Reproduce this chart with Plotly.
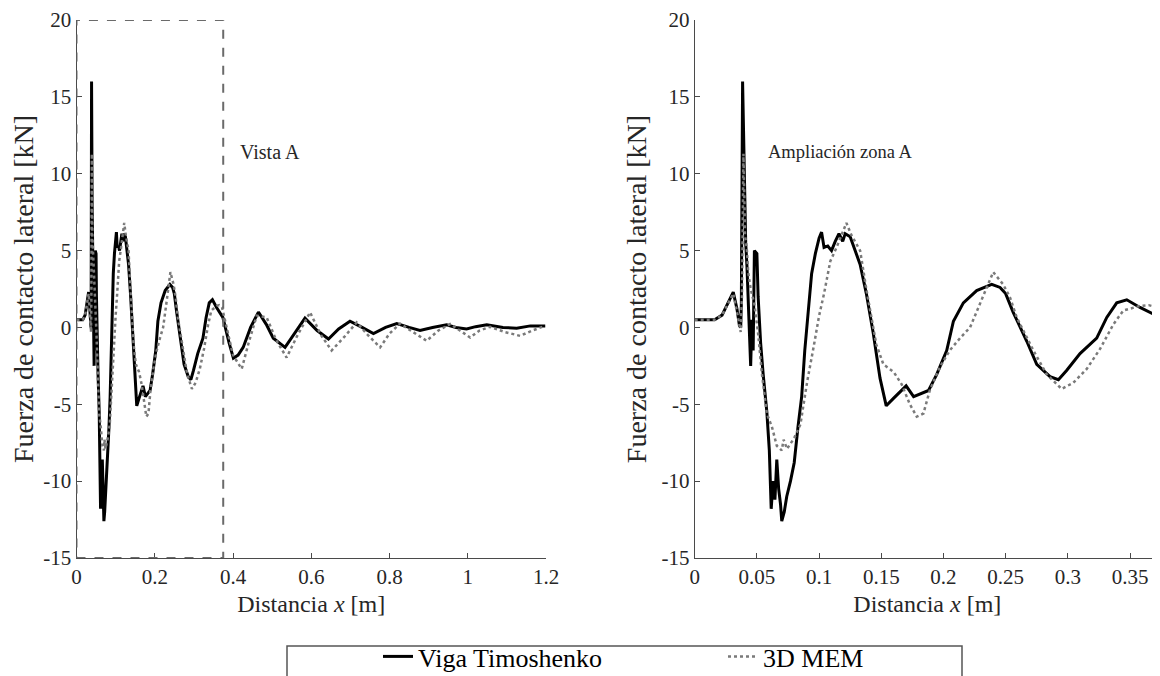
import plotly.graph_objects as go
from plotly.subplots import make_subplots

# Viga Timoshenko
x_tim = [0, 0.016, 0.022, 0.027, 0.031, 0.034, 0.036, 0.037, 0.0375, 0.0385, 0.0395, 0.040,
         0.041, 0.042, 0.0435, 0.045, 0.046, 0.047, 0.048, 0.050, 0.051, 0.053, 0.055, 0.058,
         0.060, 0.0615, 0.063, 0.0645, 0.066, 0.0675, 0.069, 0.070, 0.072, 0.074, 0.077, 0.080,
         0.083, 0.086, 0.0885, 0.091, 0.094, 0.097, 0.100, 0.102, 0.104, 0.107, 0.110, 0.113,
         0.116, 0.119, 0.121, 0.125, 0.129, 0.133, 0.138, 0.1436, 0.149, 0.154, 0.160, 0.165,
         0.170, 0.176, 0.181, 0.188, 0.1946, 0.2026, 0.208, 0.216, 0.2267, 0.2388, 0.2455, 0.250,
         0.256, 0.267, 0.275, 0.2857, 0.2924, 0.299, 0.3098, 0.3232, 0.3313, 0.3393, 0.3474, 0.358,
         0.3741, 0.39, 0.401, 0.413, 0.426, 0.445, 0.465, 0.485, 0.503, 0.533, 0.56, 0.584,
         0.615, 0.644, 0.67, 0.699, 0.73, 0.759, 0.79, 0.8185, 0.85, 0.878, 0.91, 0.946,
         0.97, 0.997, 1.02, 1.0486, 1.09, 1.125, 1.16, 1.198]
y_tim = [0.5, 0.5, 0.8, 1.6, 2.3, 1.2, 0.1, 0.0, 1.5, 16.0, 10.5, 8.0,
         5.5, 4.0, 1.0, -2.5, 0.5, -1.5, 5.0, 4.8, 2.0, -1.0, -3.0, -5.5,
         -8.0, -11.8, -10.0, -11.2, -8.6, -10.5, -11.5, -12.6, -12.0, -11.0, -10.0, -8.8,
         -6.5, -4.5, -1.5, 1.0, 3.5, 4.8, 5.8, 6.2, 5.2, 5.3, 5.0, 5.6,
         6.1, 5.6, 6.1, 5.9, 5.0, 4.1, 2.2, -0.4, -3.3, -5.1, -4.6, -4.2,
         -3.8, -4.5, -4.35, -4.1, -3.05, -1.5, 0.4, 1.6, 2.4, 2.8, 2.6, 2.2,
         1.0, -0.9, -2.4, -3.2, -3.4, -2.8, -1.7, -0.7, 0.65, 1.6, 1.8, 1.3,
         0.65, -1.0, -2.0, -1.8, -1.3, 0.0, 1.0, 0.2, -0.7, -1.3, -0.3, 0.6,
         -0.2, -0.75, -0.1, 0.4, 0.0, -0.4, 0.0, 0.25, 0.0, -0.2, 0.0, 0.17,
         0.0, -0.1, 0.05, 0.17, 0.0, -0.05, 0.1, 0.1]

# 3D MEM
x_mem = [0, 0.016, 0.022, 0.027, 0.031, 0.034, 0.036, 0.037, 0.038, 0.0392, 0.0405, 0.042,
         0.043, 0.045, 0.048, 0.051, 0.054, 0.058, 0.0622, 0.066, 0.070, 0.0715, 0.0742, 0.080,
         0.085, 0.0905, 0.096, 0.100, 0.104, 0.109, 0.114, 0.1178, 0.122, 0.126, 0.133, 0.138,
         0.146, 0.1517, 0.160, 0.1664, 0.173, 0.1785, 0.1839, 0.189, 0.197, 0.205, 0.2133, 0.2214,
         0.2294, 0.240, 0.248, 0.2535, 0.2589, 0.2723, 0.283, 0.295, 0.3044, 0.3152, 0.3259, 0.3366,
         0.3446, 0.358, 0.365, 0.372, 0.38, 0.40, 0.4223, 0.44, 0.4606, 0.486, 0.51, 0.537,
         0.565, 0.597, 0.625, 0.652, 0.685, 0.716, 0.745, 0.776, 0.80, 0.827, 0.86, 0.895,
         0.925, 0.955, 0.98, 1.006, 1.03, 1.057, 1.095, 1.134, 1.165, 1.198]
y_mem = [0.5, 0.5, 0.8, 1.6, 2.2, 1.0, 0.0, -0.3, 2.0, 11.3, 6.0, 5.0,
         3.6, 2.5, 1.5, -0.4, -3.0, -5.6, -6.5, -7.7, -8.0, -7.3, -7.9, -7.2,
         -6.3, -3.5, -1.1, 0.75, 2.2, 4.3, 5.2, 6.0, 6.8, 6.0, 5.0, 2.5,
         -1.1, -2.4, -2.9, -3.7, -5.0, -5.8, -5.6, -4.1, -2.6, -1.5, -0.7, 0.0,
         1.5, 3.6, 2.8, 1.95, 0.65, -1.5, -3.05, -4.0, -3.6, -2.7, -1.4, 0.2,
         1.1, 1.4, 1.45, 1.3, 0.4, -1.8, -2.7, -1.0, 0.76, 0.65, -0.8, -1.96,
         -0.5, 0.98, -0.5, -1.5, -0.6, 0.32, -0.5, -1.3, -0.4, 0.25, -0.3, -0.87,
         -0.2, 0.22, -0.2, -0.66, -0.2, 0.04, -0.3, -0.55, -0.2, 0.1]

y_ticks = [-15, -10, -5, 0, 5, 10, 15, 20]
y_ticktext = ["-15", "-10", "-5", "0", "5", "10", "15", "20"]
zone_a = [0, 0.375]

serif = "Liberation Serif, Times New Roman, serif"
axis_col = "#4a4a4a"
text_col = "#262626"

# the page body has an 8px margin, so the figure is drawn 8px in from the window corner
W, H, OFF = 1152, 668, 8


def px_x(X):
    return (X - OFF) / W


def px_y(Y):
    return 1 - (Y - OFF) / H


fig = make_subplots(rows=1, cols=2)

for col in (1, 2):
    fig.add_trace(go.Scatter(x=x_tim, y=y_tim, mode="lines", name="Viga Timoshenko",
                             line=dict(color="black", width=3),
                             showlegend=(col == 1)), row=1, col=col)
    fig.add_trace(go.Scatter(x=x_mem, y=y_mem, mode="lines", name="3D MEM",
                             line=dict(color="#7a7a7a", width=2.5, dash="dot"),
                             showlegend=(col == 1)), row=1, col=col)

axis_common = dict(showline=True, linecolor=axis_col, linewidth=1, ticks="inside",
                   ticklen=5, tickcolor=axis_col, showgrid=False, zeroline=False, automargin=False,
                   tickfont=dict(family=serif, size=21, color=text_col), mirror=False)
x_title = dict(text="Distancia <i>x</i> [m]", font=dict(size=24), standoff=6)
y_title = dict(text="Fuerza de contacto lateral [kN]", font=dict(size=28), standoff=6)
y_dom = [px_y(558), px_y(20)]

fig.update_layout(
    width=W, height=H,
    margin=dict(l=0, r=0, t=0, b=0, autoexpand=False),
    plot_bgcolor="white", paper_bgcolor="white",
    font=dict(family=serif, color=text_col),
    xaxis=dict(domain=[px_x(76.5), px_x(546)], range=[0, 1.2], tickvals=[0, 0.2, 0.4, 0.6, 0.8, 1, 1.2],
               title=x_title, **axis_common),
    xaxis2=dict(domain=[px_x(694.7), 1.0], range=[0, 0.3741], dtick=0.05, tick0=0,
                title=x_title, **axis_common),
    yaxis=dict(domain=y_dom, range=[-15, 20], tickvals=y_ticks, ticktext=y_ticktext,
               title=y_title, **axis_common),
    yaxis2=dict(domain=y_dom, range=[-15, 20], tickvals=y_ticks, ticktext=y_ticktext,
                title=y_title, **axis_common),
    legend=dict(orientation="h", x=px_x(378), y=px_y(633), xanchor="left", yanchor="top",
                font=dict(family=serif, size=26, color="black"), bgcolor="rgba(0,0,0,0)",
                entrywidth=300, itemwidth=30),
)

# zone A box on the full-length plot
fig.add_shape(type="rect", xref="x", yref="y", x0=zone_a[0], x1=zone_a[1], y0=-15, y1=20,
              line=dict(color="#6a6a6a", width=2, dash="dash"), layer="above")

# legend frame
fig.add_shape(type="rect", xref="paper", yref="paper", x0=px_x(287), x1=px_x(962),
              y0=-0.1, y1=px_y(646), line=dict(color="#555555", width=1.5))

fig.add_annotation(text="Vista A", x=0.413, y=11.4, xref="x", yref="y", showarrow=False,
                   xanchor="left", font=dict(family=serif, size=20, color=text_col))
fig.add_annotation(text="Ampliación zona A", x=0.117, y=11.4, xref="x2", yref="y2", showarrow=False,
                   xanchor="center", font=dict(family=serif, size=18.5, color=text_col))

fig.write_html("out.html")
